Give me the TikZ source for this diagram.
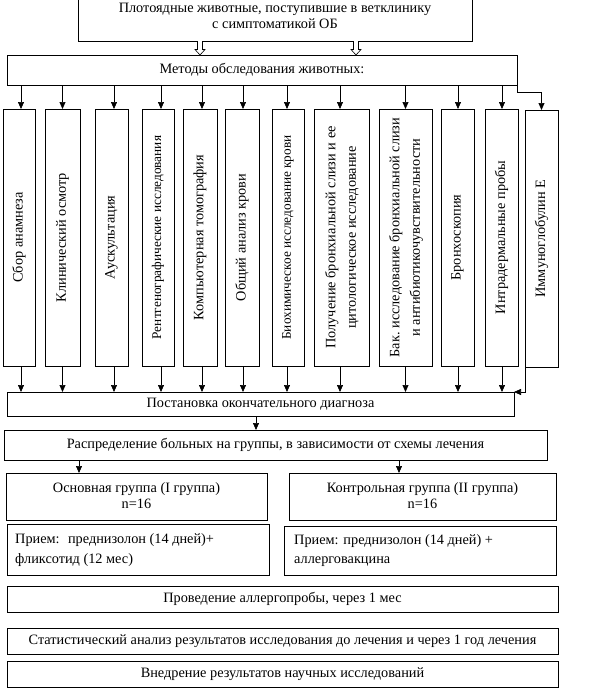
\documentclass[tikz,border=0pt]{standalone}
\usepackage{fontspec}
\setmainfont{Liberation Serif}
\usetikzlibrary{arrows.meta,calc}
\newcommand\vtf{\fontsize{14.3}{20.5}\selectfont}
\newcommand\vts{\fontsize{13.3}{15}\selectfont}
\newcommand\twolines[2]{\begin{tabular}{@{}c@{}}#1\\#2\end{tabular}}
\begin{document}
\begin{tikzpicture}[x=1pt,y=-1pt,
  box/.style={draw, line width=0.8pt, inner sep=0pt, outer sep=0pt, align=center},
  txt/.style={font=\fontsize{14.3}{16}\selectfont, inner sep=0pt},
  arr/.style={-{Triangle[width=6pt,length=7pt]}, line width=0.7pt},
  hollow/.style={line width=0.6pt, fill=white}]
\useasboundingbox (0,0) rectangle (591,689);
% top box
\node[box, minimum width=394pt, minimum height=46pt] (top) at (275,18) {};
\node[txt, anchor=base] (top1) at (275,12) {Плотоядные животные, поступившие в ветклинику};
\node[txt, anchor=base] (top2) at (275,28) {с симптоматикой ОБ};
% methods
\node[box, txt, minimum width=510pt, minimum height=30pt] (meth) at (262,70) {Методы обследования животных:};
% hollow arrows
\coordinate (h1) at ([xshift=-75pt]top.south);
\coordinate (h2) at ([xshift=81pt]top.south);
\foreach \h in {h1,h2}{
  \draw[hollow] (\h) ++(-2.5pt,0) -- ++(0,-8.5pt) -- ++(-2.5pt,0) -- ++(5pt,-5.5pt) -- ++(5pt,5.5pt) -- ++(-2.5pt,0) -- ++(0,8.5pt);
}
% vertical boxes
\node[box, minimum width=32pt, minimum height=257pt] (b1) at (19,237.5) {\rotatebox{90}{\vtf Сбор анамнеза}};
\node[box, minimum width=35pt, minimum height=257pt] (b2) at (62.5,237.5) {\rotatebox{90}{\vtf Клинический осмотр}};
\node[box, minimum width=33pt, minimum height=257pt] (b3) at (111.5,237.5) {\rotatebox{90}{\vtf Аускультация}};
\node[box, minimum width=32pt, minimum height=257pt] (b4) at (158,237.5) {\rotatebox{90}{\vts Рентгенографические исследования}};
\node[box, minimum width=34pt, minimum height=257pt] (b5) at (200,237.5) {\rotatebox{90}{\vtf Компьютерная томография}};
\node[box, minimum width=34pt, minimum height=257pt] (b6) at (242,237.5) {\rotatebox{90}{\vtf Общий анализ крови}};
\node[box, minimum width=32pt, minimum height=257pt] (b7) at (288,237.5) {\rotatebox{90}{\vts Биохимическое исследование крови}};
\node[box, minimum width=55pt, minimum height=257pt] (b8) at (341.5,237.5) {\rotatebox{90}{\vtf\twolines{Получение бронхиальной слизи и ее}{цитологическое исследование}}};
\node[box, minimum width=53pt, minimum height=257pt] (b9) at (405.5,237.5) {\rotatebox{90}{\vtf\twolines{Бак.\ исследование бронхиальной слизи}{и антибиотикочувствительности}}};
\node[box, minimum width=33pt, minimum height=257pt] (b10) at (457.5,237.5) {\rotatebox{90}{\vtf Бронхоскопия}};
\node[box, minimum width=33pt, minimum height=257pt] (b11) at (501.5,237.5) {\rotatebox{90}{\vtf Интрадермальные пробы}};
\node[box, minimum width=33pt, minimum height=257pt] (b12) at (541.5,238.5) {\rotatebox{90}{\vtf Иммуноглобулин Е}};
% diagnosis
\node[box, txt, minimum width=507pt, minimum height=24pt] (diag) at (260.5,404) {Постановка окончательного диагноза};
% arrows to/from vertical boxes
\foreach \n/\d in {b1/2,b2/0,b3/2.5,b4/3,b5/2,b6/1,b7/-1,b8/-1.5,b9/0,b10/0.5,b11/0.5}{
  \draw[arr] ([xshift=\d pt]\n.north |- meth.south) -- ([xshift=\d pt]\n.north);
  \draw[arr] ([xshift=\d pt]\n.south) -- ([xshift=\d pt]\n.south |- diag.north);
}
\draw[arr] (meth.south east) -- ++(0,-7pt) -| (b12.north);
\draw[arr] (b12.south west) -- (b12.south west |- diag.north) -- (diag.north east);
% distribution
\node[box, txt, minimum width=543pt, minimum height=30pt] (distr) at (275.5,445) {Распределение больных на группы, в зависимости от схемы лечения};
\draw[arr] ([xshift=-4.5pt]diag.south) -- ([xshift=-4.5pt]diag.south |- distr.north);
% groups
\node[box, minimum width=261pt, minimum height=47pt] (g1) at (136.5,496.5) {};
\node[box, minimum width=267pt, minimum height=47pt] (g2) at (422.5,496.5) {};
\node[txt, anchor=base] (g1a) at (136.5,492) {Основная группа (I группа)};
\node[txt, anchor=base] (g1b) at (136.5,508) {n=16};
\node[txt, anchor=base] (g2a) at (422.5,492) {Контрольная группа (II группа)};
\node[txt, anchor=base] (g2b) at (422.5,508) {n=16};
\draw[arr] ([xshift=-57.5pt]g1.north |- distr.south) -- ([xshift=-57.5pt]g1.north);
\draw[arr] ([xshift=-23.5pt]g2.north |- distr.south) -- ([xshift=-23.5pt]g2.north);
% treatments
\node[box, minimum width=262pt, minimum height=51pt] (p1) at (138,549.5) {};
\node[box, minimum width=272pt, minimum height=49pt] (p2) at (420,550.5) {};
\node[txt, anchor=base west] (p1a) at (15,543) {Прием:~ преднизолон (14 дней)+};
\node[txt, anchor=base west] (p1b) at (15,563) {фликсотид (12 мес)};
\node[txt, anchor=base west] (p2a) at (294,544) {Прием: преднизолон (14 дней) +};
\node[txt, anchor=base west] (p2b) at (294,563) {аллерговакцина};
% bottom boxes
\node[box, txt, minimum width=551pt, minimum height=26pt] (pr) at (282.5,599) {Проведение аллергопробы, через 1 мес};
\node[box, txt, minimum width=551pt, minimum height=26pt] (st) at (282.5,641) {Статистический анализ результатов исследования до лечения и через 1 год лечения};
\node[box, txt, minimum width=551pt, minimum height=26pt] (vn) at (282.5,674) {Внедрение результатов научных исследований};
\end{tikzpicture}
\end{document}
